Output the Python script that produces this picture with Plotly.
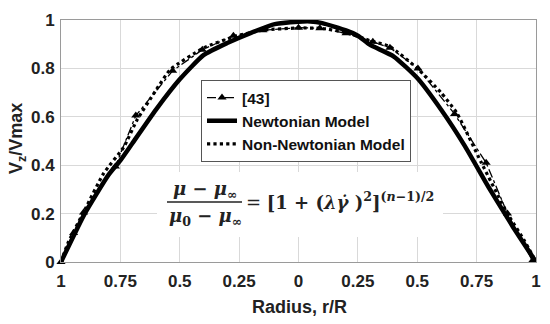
import plotly.graph_objects as go

# ---------------- data ----------------
ref_x = [-1, -0.947, -0.905, -0.771, -0.685, -0.53, -0.405, -0.274, -0.15, 0.0,
         0.09, 0.2, 0.313, 0.385, 0.503, 0.657, 0.79, 0.88, 0.985]
ref_y = [0.0, 0.12, 0.205, 0.395, 0.605, 0.79, 0.877, 0.935, 0.958, 0.968,
         0.966, 0.945, 0.91, 0.885, 0.8, 0.612, 0.41, 0.2, 0.005]

newt_x = [-1, -0.9, -0.8, -0.75, -0.7, -0.6, -0.5, -0.4, -0.3, -0.2, -0.1, 0.0, 0.05,
          0.1, 0.2, 0.25, 0.3, 0.4, 0.5, 0.6, 0.7, 0.8, 0.9, 1.0]
newt_y = [0.0, 0.2, 0.36, 0.42, 0.49, 0.63, 0.755, 0.855, 0.905, 0.947, 0.983, 0.993, 0.994,
          0.987, 0.957, 0.935, 0.898, 0.85, 0.76, 0.63, 0.48, 0.31, 0.15, 0.0]

nonnewt_x = [-1, -0.97, -0.9, -0.82, -0.735, -0.68, -0.6, -0.54, -0.4, -0.275, -0.15, 0.0,
             0.1, 0.2, 0.3, 0.385, 0.5, 0.6, 0.667, 0.77, 0.88, 0.95, 1.0]
nonnewt_y = [0.0, 0.08, 0.215, 0.367, 0.476, 0.587, 0.71, 0.795, 0.884, 0.93, 0.958, 0.967,
             0.965, 0.948, 0.915, 0.89, 0.80, 0.70, 0.615, 0.41, 0.2, 0.09, 0.0]

x_tickvals = [-1, -0.75, -0.5, -0.25, 0, 0.25, 0.5, 0.75, 1]
x_ticktext = ["1", "0.75", "0.5", "0.25", "0", "0.25", "0.5", "0.75", "1"]
y_tickvals = [0, 0.2, 0.4, 0.6, 0.8, 1]
y_ticktext = ["0", "0.2", "0.4", "0.6", "0.8", "1"]

# ---------------- figure ----------------
fig = go.Figure()

fig.add_trace(go.Scatter(
    x=ref_x, y=ref_y, name="<b>[43]</b>", mode="lines+markers",
    line=dict(color="black", width=1.3, dash="dashdot"),
    marker=dict(symbol="triangle-up", size=8, color="black"),
    cliponaxis=False))
fig.add_trace(go.Scatter(
    x=newt_x, y=newt_y, name="<b>Newtonian Model</b>", mode="lines",
    line=dict(color="black", width=4.5, shape="spline", smoothing=0.5),
    cliponaxis=False))
fig.add_trace(go.Scatter(
    x=nonnewt_x, y=nonnewt_y, name="<b>Non-Newtonian Model</b>", mode="lines",
    line=dict(color="black", width=3.2, dash="dot", shape="spline", smoothing=0.5),
    cliponaxis=False))

W, H = 550, 324
L, R, T, B = 61, 14, 20, 62
PW, PH = W - L - R, H - T - B

def px_to_x(px):
    return (px - L) / PW * 2 - 1

def py_to_y(py):
    return (H - B - py) / PH

def px_to_paper(px):
    return (px - L) / PW

fig.update_layout(
    width=W, height=H,
    margin=dict(l=L, r=R, t=T, b=B, autoexpand=False),
    paper_bgcolor="white", plot_bgcolor="white",
    font=dict(family="Arial", color="#1a1a1a"),
    showlegend=True,
    legend=dict(
        x=px_to_paper(201), y=py_to_y(80), xanchor="left", yanchor="top",
        bgcolor="white", bordercolor="#555", borderwidth=1,
        font=dict(family="Arial", size=15.5, color="#111"),
        tracegroupgap=0, itemwidth=30,
    ),
)

fig.update_xaxes(
    range=[-1, 1], tickvals=x_tickvals, ticktext=x_ticktext, automargin=False,
    showgrid=True, gridcolor="#d9d9d9", gridwidth=1, zeroline=False,
    showline=True, mirror=True, linecolor="#9a9a9a", linewidth=1,
    ticks="", ticklabelstandoff=4,
    tickfont=dict(family="Arial", size=17, color="#222", weight="bold"),
)
fig.update_yaxes(
    range=[0, 1], tickvals=y_tickvals, ticktext=y_ticktext, automargin=False,
    showgrid=True, gridcolor="#d9d9d9", gridwidth=1, zeroline=False,
    showline=True, mirror=True, linecolor="#9a9a9a", linewidth=1,
    ticks="", ticklabelstandoff=2,
    tickfont=dict(family="Arial", size=17, color="#222", weight="bold"),
)

# axis titles
fig.add_annotation(xref="paper", yref="paper", x=px_to_paper(299), y=py_to_y(307),
                   text="<b>Radius, r/R</b>", showarrow=False,
                   font=dict(family="Arial", size=18, color="#222"),
                   xanchor="center", yanchor="middle")
fig.add_annotation(xref="paper", yref="paper", x=px_to_paper(17), y=py_to_y(139),
                   text="<b>V<sub>z</sub>/Vmax</b>", showarrow=False, textangle=-90,
                   font=dict(family="Arial", size=18, color="#222"),
                   xanchor="center", yanchor="middle")

# equation box (white background)
fig.add_shape(type="rect", xref="x", yref="y",
              x0=px_to_x(157), x1=px_to_x(443), y0=py_to_y(237), y1=py_to_y(172),
              fillcolor="white", line=dict(width=0), layer="between")
# fraction bar
fig.add_shape(type="line", xref="x", yref="y",
              x0=px_to_x(167), x1=px_to_x(242), y0=py_to_y(202), y1=py_to_y(202),
              line=dict(color="#222", width=1.5))

eq_font = dict(family="DejaVu Serif", size=18, color="#222")
fig.add_annotation(xref="x", yref="y", x=px_to_x(205), y=py_to_y(190),
                   text="<b><i>μ</i> − <i>μ</i><sub>∞</sub></b>", showarrow=False,
                   font=eq_font, xanchor="center", yanchor="middle")
fig.add_annotation(xref="x", yref="y", x=px_to_x(205), y=py_to_y(217),
                   text="<b><i>μ</i><sub>0</sub> − <i>μ</i><sub>∞</sub></b>", showarrow=False,
                   font=eq_font, xanchor="center", yanchor="middle")
fig.add_annotation(xref="x", yref="y", x=px_to_x(244), y=py_to_y(201),
                   text="= <b>[1 + (<i>λγ̇</i> )<sup>2</sup>]<sup>(<i>n</i>−1)/2</sup></b>",
                   showarrow=False, font=eq_font, xanchor="left", yanchor="middle")

fig.write_html("out.html", config={"displayModeBar": False},
               post_script="document.body.style.margin='0';")
